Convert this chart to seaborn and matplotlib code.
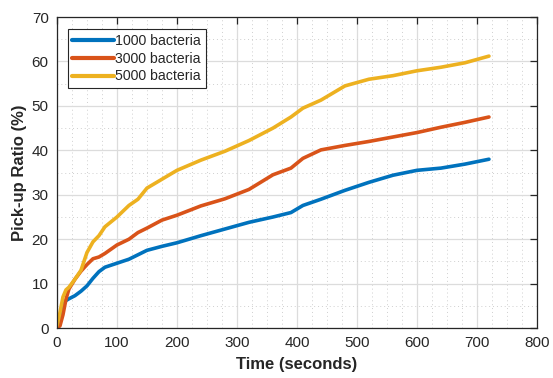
"""pick-up ratio over time for three bacteria counts"""

import matplotlib
matplotlib.use('Agg')
import matplotlib.pyplot as plt
from matplotlib.ticker import MultipleLocator
import seaborn as sns
import pandas as pd


# --------------------------- data ------------------------------
time_s = [0, 5, 10, 15, 20, 30, 40, 50, 60, 70, 80, 100, 120, 135, 150, 175,
          200, 240, 280, 320, 360, 390, 410, 440, 480, 520, 560, 600, 640, 680, 720]

ratio_1000 = [0, 2.0, 5.0, 6.2, 6.6, 7.3, 8.3, 9.5, 11.2, 12.7, 13.7, 14.6, 15.5, 16.5, 17.5, 18.4,
              19.2, 20.8, 22.3, 23.8, 25.0, 26.0, 27.6, 29.0, 31.0, 32.8, 34.4, 35.5, 36.0, 36.9, 38.0]
ratio_3000 = [0, 0.5, 3.0, 6.5, 8.8, 11.0, 12.8, 14.3, 15.6, 16.0, 16.8, 18.7, 20.0, 21.5, 22.5, 24.3,
              25.4, 27.5, 29.1, 31.2, 34.5, 36.0, 38.2, 40.1, 41.1, 42.0, 43.0, 44.0, 45.2, 46.3, 47.5]
ratio_5000 = [0.5, 3.5, 7.0, 8.6, 9.2, 11.0, 13.0, 17.0, 19.4, 20.8, 22.8, 25.0, 27.6, 29.0, 31.5, 33.5,
              35.5, 37.8, 39.8, 42.2, 45.0, 47.5, 49.5, 51.3, 54.5, 56.0, 56.8, 57.9, 58.7, 59.7, 61.2]

labels = ['1000 bacteria', '3000 bacteria', '5000 bacteria']
colors = ['#0072BD', '#D95319', '#EDB120']

# long format for seaborn
df = pd.concat([
    pd.DataFrame({'Time': time_s, 'Ratio': vals, 'Series': lab})
    for vals, lab in zip([ratio_1000, ratio_3000, ratio_5000], labels)
])


# --------------------------- style ------------------------------
sns.set_style('white')
plt.rcParams['font.family'] = ['Liberation Sans', 'DejaVu Sans']
DARK = '#262626'
plt.rcParams['text.color'] = DARK
plt.rcParams['axes.labelcolor'] = DARK
plt.rcParams['xtick.color'] = DARK
plt.rcParams['ytick.color'] = DARK

fig = plt.figure(figsize=(5.53, 3.78), dpi=100)
ax = fig.add_axes([0.103, 0.132, 0.868, 0.823])

sns.lineplot(data=df, x='Time', y='Ratio', hue='Series', palette=colors,
             linewidth=2.6, ax=ax)

ax.set_xlim(0, 800)
ax.set_ylim(0, 70)
ax.xaxis.set_major_locator(MultipleLocator(100))
ax.xaxis.set_minor_locator(MultipleLocator(25))
ax.yaxis.set_major_locator(MultipleLocator(10))
ax.yaxis.set_minor_locator(MultipleLocator(5))

# matlab-ish grid
ax.grid(which='major', color='#dcdcdc', linewidth=0.9, linestyle='-')
ax.grid(which='minor', color='#cfcfcf', linewidth=0.7, linestyle=(0, (1, 3)))
ax.set_axisbelow(True)

for sp in ax.spines.values():
    sp.set_visible(True)
    sp.set_color(DARK)
    sp.set_linewidth(0.9)

ax.tick_params(which='major', direction='in', length=5, width=0.9,
               top=True, right=True, labelsize=11, pad=6)
ax.tick_params(which='minor', length=0)

ax.set_xlabel('Time (seconds)', fontsize=12, fontweight='bold', labelpad=5)
ax.set_ylabel('Pick-up Ratio (%)', fontsize=12, fontweight='bold', labelpad=3)

leg = ax.legend(loc='upper left', bbox_to_anchor=(0.022, 0.96), fontsize=10.2,
                frameon=True, fancybox=False, handlelength=2.9, handletextpad=0.1,
                labelspacing=0.25, borderpad=0.35, borderaxespad=0)
leg.get_frame().set_edgecolor(DARK)
leg.get_frame().set_linewidth(0.8)
leg.get_frame().set_alpha(1)
for line in leg.get_lines():
    line.set_linewidth(3)

plt.savefig('out.png', dpi=100)
